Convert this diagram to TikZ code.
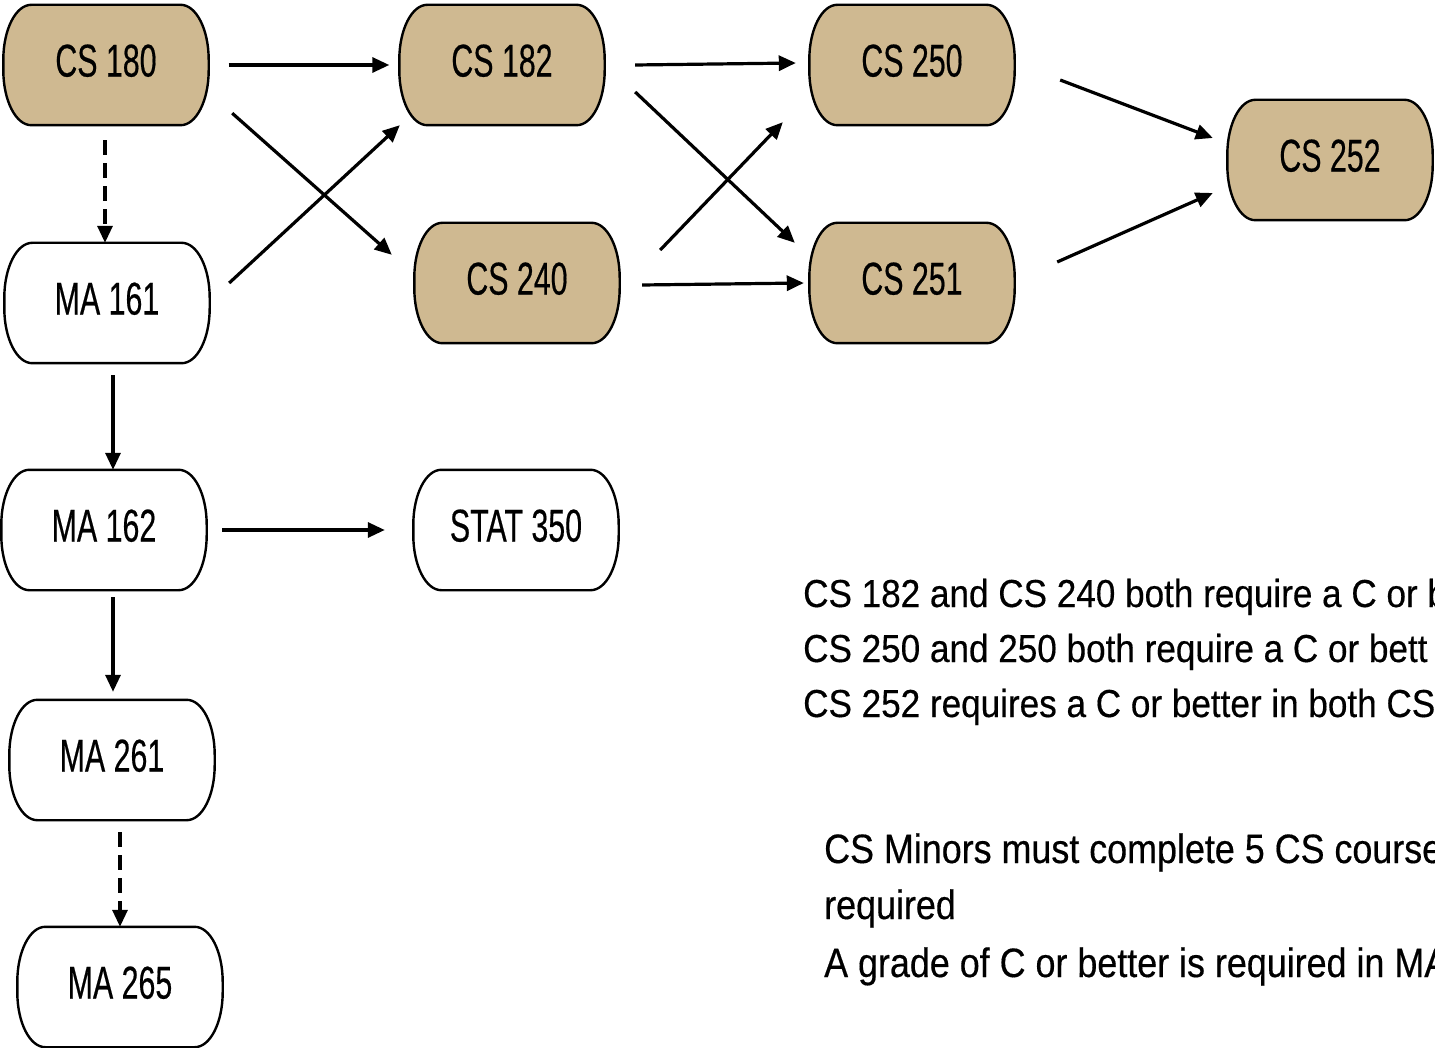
\documentclass[tikz,border=0pt]{standalone}
\usepackage{fontspec}
\newfontfamily\coursefont{Liberation Sans}[FakeStretch=0.66, FakeBold=0.4]
\newfontfamily\notefont{Liberation Sans}[FakeStretch=0.9, FakeBold=0.4]
\newfontfamily\minorfont{Liberation Sans}[FakeStretch=0.875, FakeBold=0.4]
\usetikzlibrary{arrows.meta, calc, backgrounds}
\definecolor{oldgold}{RGB}{207,185,145}

% outline of a course box, drawn behind its node
\newcommand{\pill}[2]{%
  \path[draw=black, line width=2.4pt, fill=#2]
    ($(#1.north west)+(28,0)$) -- ($(#1.north east)+(-28,0)$)
    .. controls ($(#1.north east)+(-12.5,0)$) and ($(#1.north east)+(0,24.6)$) .. ($(#1.north east)+(0,55)$)
    -- ($(#1.south east)+(0,-55)$)
    .. controls ($(#1.south east)+(0,-24.6)$) and ($(#1.south east)+(-12.5,0)$) .. ($(#1.south east)+(-28,0)$)
    -- ($(#1.south west)+(28,0)$)
    .. controls ($(#1.south west)+(12.5,0)$) and ($(#1.south west)+(0,-24.6)$) .. ($(#1.south west)+(0,-55)$)
    -- ($(#1.north west)+(0,55)$)
    .. controls ($(#1.north west)+(0,24.6)$) and ($(#1.north west)+(12.5,0)$) .. cycle;}

\begin{document}
\begin{tikzpicture}[
        x=1pt, y=-1pt,
        course/.style={rectangle, minimum width=205pt, minimum height=120pt, inner sep=0pt, text depth=9pt, font=\coursefont\fontsize{46}{50}\selectfont},
        note/.style={anchor=base west, inner sep=0pt},
        arrow/.style={-{Triangle[length=17pt, width=15pt]}, line width=3.2pt},
        optional/.style={arrow, dash pattern=on 15pt off 8pt}
    ]
        \useasboundingbox (0,0) rectangle (1435,1048);

        % courses
        \node[course] (cs180) at (106,65) {CS 180};
        \node[course] (cs182) at (502,65) {CS 182};
        \node[course] (cs250) at (912,65) {CS 250};
        \node[course] (cs252) at (1330,160) {CS 252};
        \node[course] (cs240) at (517,283) {CS 240};
        \node[course] (cs251) at (912,283) {CS 251};
        \node[course] (ma161) at (107,303) {MA 161};
        \node[course] (ma162) at (104,530) {MA 162};
        \node[course] (stat350) at (516,530) {STAT 350};
        \node[course] (ma261) at (112,760) {MA 261};
        \node[course] (ma265) at (120,987) {MA 265};

        \begin{scope}[on background layer]
            \foreach \c in {cs180, cs182, cs250, cs252, cs240, cs251}
                \pill{\c}{oldgold};
            \foreach \c in {ma161, ma162, stat350, ma261, ma265}
                \pill{\c}{white};
        \end{scope}

        % prerequisites
        \draw[arrow] ($(cs180.east)+(20,0)$) -- ($(cs182.west)+(-10,0)$);
        \draw[arrow] ($(cs180.south east)+(23.5,-12)$) -- ($(cs240.north west)+(-22.5,32)$);
        \draw[arrow] ($(ma161.east)+(19.5,-20)$) -- ($(cs182.south west)+(0.5,0)$);
        \draw[optional] ($(cs180.south)+(-1,15)$) -- ($(ma161.north)+(-2,0)$);
        \draw[arrow] ($(ma161.south)+(6,12)$) -- ($(ma162.north)+(9,0)$);
        \draw[arrow] ($(ma162.east)+(15.5,0)$) -- ($(stat350.west)+(-28.5,0)$);
        \draw[arrow] ($(ma162.south)+(9,7)$) -- ($(ma261.north)+(1,-8)$);
        \draw[optional] ($(ma261.south)+(8,12)$) -- (ma265.north);
        \draw[arrow] ($(cs182.east)+(30.5,0)$) -- ($(cs250.west)+(-13.5,-2)$);
        \draw[arrow] ($(cs182.east)+(30.5,27)$) -- ($(cs251.north west)+(-14.5,20)$);
        \draw[arrow] ($(cs240.east)+(40.5,-33)$) -- ($(cs250.south west)+(-26.5,-3)$);
        \draw[arrow] ($(cs240.east)+(22.5,2)$) -- ($(cs251.west)+(-5.5,0)$);
        \draw[arrow] ($(cs250.east)+(45.5,15)$) -- ($(cs252.west)+(-14.5,-22)$);
        \draw[arrow] ($(cs251.east)+(42.5,-21)$) -- ($(cs252.west)+(-14.5,33)$);

        % grade notes
        \begin{scope}[font=\notefont\fontsize{39}{44}\selectfont]
            \node[note] (grade1) at (803,607) {CS 182 and CS 240 both require a C or b};
            \node[note] (grade2) at (803,662) {CS 250 and 250 both require a C or bett};
            \node[note] (grade3) at (803,717) {CS 252 requires a C or better in both CS};
        \end{scope}
        \begin{scope}[font=\minorfont\fontsize{41}{46}\selectfont]
            \node[note] (minor1) at (824,863) {CS Minors must complete 5 CS course};
            \node[note] (minor2) at (824,919) {required};
            \node[note] (minor3) at (824,977) {A grade of C or better is required in MA};
        \end{scope}
    \end{tikzpicture}
\end{document}
